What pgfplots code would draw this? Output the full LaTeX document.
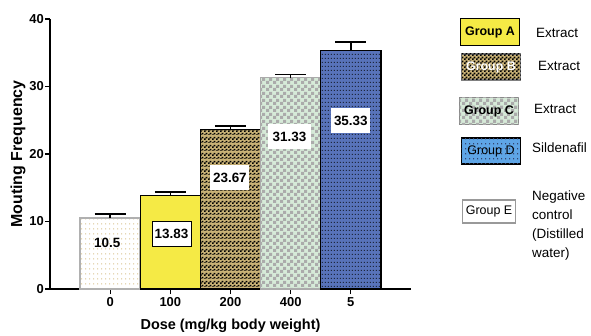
\documentclass[border=0pt]{standalone}
\usepackage{fontspec}
\setmainfont{Liberation Sans}
\usepackage{pgfplots}
\pgfplotsset{compat=1.18}
\usetikzlibrary{patterns}

\definecolor{barA}{HTML}{F5EA45}
\definecolor{tanB}{HTML}{C9B276}
\definecolor{mintC}{HTML}{D6EAD8}
\definecolor{grayC}{HTML}{ABABAB}
\definecolor{blueD}{HTML}{5873BA}
\definecolor{skyD}{HTML}{5EA5E6}
\definecolor{dotE}{HTML}{D9C38E}
\definecolor{edgeE}{HTML}{B0B0B0}

\pgfdeclarepatternformonly{finechecker}{\pgfpointorigin}{\pgfqpoint{4bp}{4bp}}{\pgfqpoint{4bp}{4bp}}{%
  \pgfpathrectangle{\pgfpointorigin}{\pgfqpoint{2bp}{2bp}}%
  \pgfpathrectangle{\pgfqpoint{2bp}{2bp}}{\pgfqpoint{2bp}{2bp}}%
  \pgfusepath{fill}}
\pgfdeclarepatternformonly{bigchecker}{\pgfpointorigin}{\pgfqpoint{7bp}{7bp}}{\pgfqpoint{7bp}{7bp}}{%
  \pgfpathrectangle{\pgfpointorigin}{\pgfqpoint{3.5bp}{3.5bp}}%
  \pgfpathrectangle{\pgfqpoint{3.5bp}{3.5bp}}{\pgfqpoint{3.5bp}{3.5bp}}%
  \pgfusepath{fill}}
\pgfdeclarepatternformonly{hstripes}{\pgfpointorigin}{\pgfqpoint{4bp}{8bp}}{\pgfqpoint{4bp}{8bp}}{%
  \pgfpathrectangle{\pgfqpoint{0bp}{0bp}}{\pgfqpoint{4bp}{1bp}}%
  \pgfusepath{fill}}
\pgfdeclarepatternformonly{sparsedots}{\pgfpointorigin}{\pgfqpoint{4bp}{5bp}}{\pgfqpoint{4bp}{5bp}}{%
  \pgfpathrectangle{\pgfqpoint{1.5bp}{2bp}}{\pgfqpoint{1.2bp}{1.2bp}}%
  \pgfusepath{fill}}
\pgfdeclarepatternformonly{bluedots}{\pgfpointorigin}{\pgfqpoint{3bp}{4bp}}{\pgfqpoint{3bp}{4bp}}{%
  \pgfpathrectangle{\pgfqpoint{1bp}{1.5bp}}{\pgfqpoint{1.1bp}{1.1bp}}%
  \pgfusepath{fill}}

\begin{document}
\begin{tikzpicture}
\path[use as bounding box] (0,0) rectangle (591bp,336bp);
\begin{axis}[
  at={(50bp,47bp)}, anchor=south west,
  scale only axis, width=361bp, height=270bp,
  xmin=-1, xmax=5, ymin=0, ymax=40,
  ybar, bar width=1, bar shift=0pt,
  axis lines*=left,
  axis line style={black, line width=1.5bp},
  tick style={black, line width=1.3bp},
  tick align=outside, major tick length=5bp,
  xtick={0,1,2,3,4}, xticklabels={0,100,200,400,5},
  ytick={0,10,20,30,40},
  /pgf/number format/assume math mode=true,
  ticklabel style={font=\bfseries\fontsize{13}{15}\selectfont},
  yticklabel style={inner xsep=1bp},
  xticklabel style={inner ysep=3bp},
  xlabel={Dose (mg/kg body weight)},
  ylabel={Mouting Frequency},
  every axis x label/.style={at={(axis description cs:0.5,-0.137)}, anchor=center, font=\bfseries\fontsize{14.5}{16}\selectfont},
  every axis y label/.style={at={(axis description cs:-0.0886,0.5)}, rotate=90, anchor=center, font=\bfseries\fontsize{16}{18}\selectfont},
  clip=false,
]
\addplot[fill=white, draw=edgeE, line width=1.5bp, postaction={pattern=sparsedots, pattern color=dotE}] coordinates {(0,10.5)};
\addplot[fill=barA, draw=black, line width=1.4bp] coordinates {(1,13.83)};
\addplot[fill=tanB, draw=black, line width=1.4bp, postaction={pattern=finechecker, pattern color=black}, postaction={pattern=hstripes, pattern color=tanB}] coordinates {(2,23.67)};
\addplot[fill=mintC, draw=grayC, line width=1.5bp, postaction={pattern=bigchecker, pattern color=grayC}] coordinates {(3,31.33)};
\addplot[fill=blueD, draw=black, line width=1.4bp, postaction={pattern=bluedots, pattern color=black}] coordinates {(4,35.33)};

\addplot[sharp plot, draw=none, mark=none, forget plot,
  error bars/.cd, y dir=plus, y explicit,
  error bar style={black, line width=1.6bp},
  error mark options={rotate=90, mark size=15.5bp, line width=1.6bp, black}]
  coordinates {(0,10.5) +- (0,0.65) (1,13.83) +- (0,0.55) (2,23.67) +- (0,0.5) (3,31.33) +- (0,0.42) (4,35.33) +- (0,1.3)};

\tikzset{vlab/.style={fill=white, inner sep=0pt, minimum width=39bp, minimum height=25bp, font=\bfseries\fontsize{13.5}{15}\selectfont}}
\node[vlab, fill=none] at (axis cs:-0.05,6.8) {10.5};
\node[vlab, draw=black, line width=0.8bp] at (axis cs:1.02,8.15) {13.83};
\node[vlab] at (axis cs:1.99,16.5) {23.67};
\node[vlab, minimum width=43bp] at (axis cs:2.98,22.6) {31.33};
\node[vlab] at (axis cs:4.0,24.9) {35.33};
\end{axis}

\tikzset{gbox/.style={inner sep=0pt, minimum width=59bp, minimum height=26bp, font=\fontsize{12.5}{14}\selectfont},
         ltxt/.style={anchor=west, inner sep=0pt, font=\fontsize{13.5}{15}\selectfont}}
\node[gbox, fill=barA, draw=black, line width=1.8bp, font=\bfseries\fontsize{12.5}{14}\selectfont, minimum height=27bp] at (490bp,304bp) {Group A};
\node[gbox, fill=tanB, draw=gray, line width=1.5bp, postaction={pattern=finechecker, pattern color=black}, font=\bfseries\fontsize{12.5}{14}\selectfont, text=white] at (491bp,269bp) {Group B};
\node[gbox, fill=mintC, draw=grayC!80!black, line width=1.5bp, postaction={pattern=bigchecker, pattern color=grayC}, font=\bfseries\fontsize{12.5}{14}\selectfont, minimum height=27bp] at (489bp,225bp) {Group C};
\node[gbox, fill=skyD, draw=black, line width=1.8bp, postaction={pattern=sparsedots, pattern color=blueD!60!black}] at (491bp,185bp) {Group D};
\node[gbox, fill=white, draw=gray!80, line width=1.5bp, minimum width=53bp, minimum height=23bp] at (489bp,124.5bp) {Group E};

\node[ltxt] at (536bp,303bp) {Extract};
\node[ltxt] at (538bp,270bp) {Extract};
\node[ltxt] at (534bp,227bp) {Extract};
\node[ltxt] at (532bp,188bp) {Sildenafil};
\node[ltxt, anchor=north west, align=left, font=\fontsize{13.5}{19}\selectfont] at (532bp,145bp) {Negative\\control\\(Distilled\\water)};
\end{tikzpicture}
\end{document}
